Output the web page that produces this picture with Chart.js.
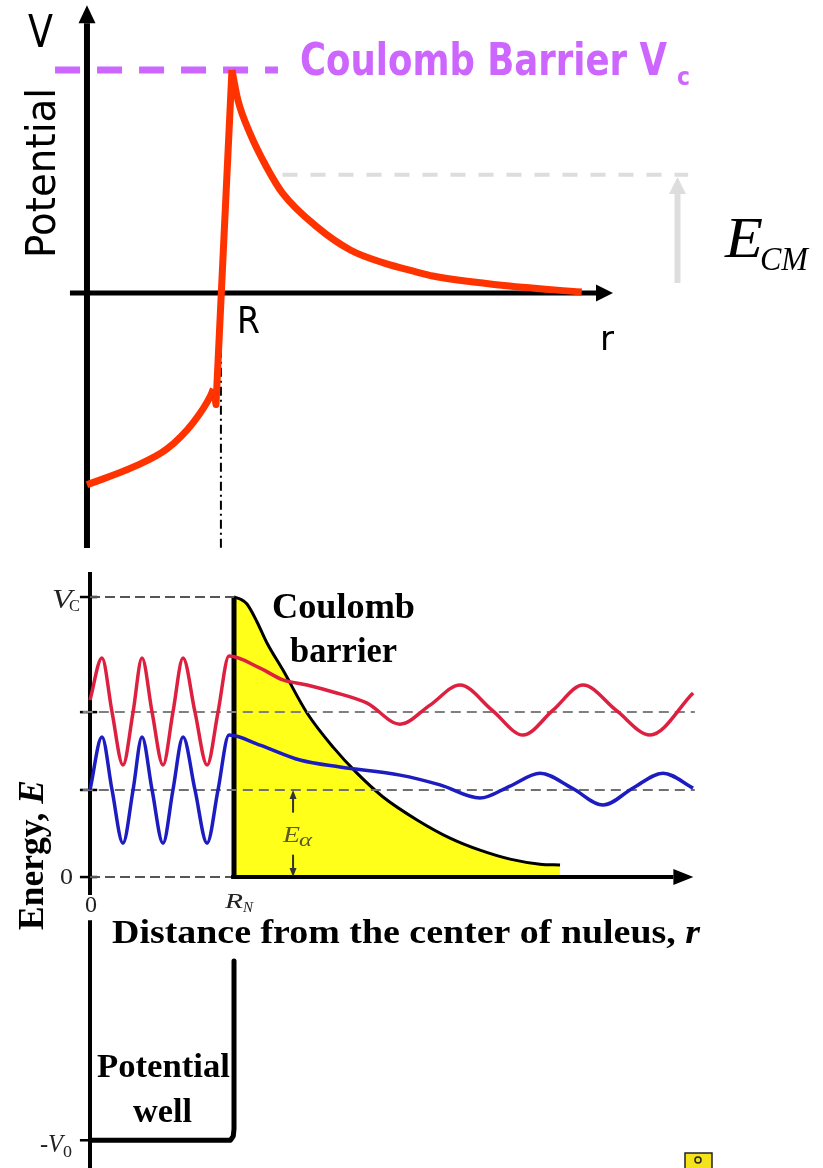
<!DOCTYPE html>
<html>
<head>
<meta charset="utf-8">
<script src="https://cdn.jsdelivr.net/npm/chart.js@4.4.1/dist/chart.umd.min.js"></script>
<style>
  html, body { margin: 0; padding: 0; background: #fff; }
  canvas { display: block; }
</style>
</head>
<body>
<canvas id="potential_chart" width="823" height="1168"></canvas>
<script>
// ---- top sketch: V(r), r in units of R, V in units of Vc ----
var innerR = [0, 0.35, 0.60, 0.80, 0.93, 0.95];
var innerV = [-0.86, -0.78, -0.70, -0.58, -0.46, -0.43];
var spikeR = [0.95, 0.97, 1.09];
var spikeV = [-0.43, -0.50, 1.0];
var decayR = [1.09, 1.135, 1.225, 1.35, 1.47, 1.73, 1.98, 2.23, 2.48, 2.60, 3.10, 3.72];
var decayV = [1.0, 0.865, 0.717, 0.565, 0.448, 0.296, 0.193, 0.135, 0.094, 0.076, 0.036, 0.004];
var barrierV = 1.0;      // Vc
var barrierLineR = [-0.24, 1.436];
var ecmV = 0.53;         // E_CM
var ecmLineR = [1.47, 4.52];

// ---- bottom sketch: energy vs distance, r in units of R_N, E in units of Vc ----
var coulombR = [1.0, 1.042, 1.090, 1.160, 1.229, 1.340, 1.507, 1.688, 1.854, 2.035, 2.271, 2.5, 2.708, 2.917, 3.125, 3.264];
var coulombE = [1.0, 0.993, 0.975, 0.911, 0.836, 0.739, 0.586, 0.464, 0.371, 0.286, 0.204, 0.139, 0.096, 0.064, 0.046, 0.043];
var redWaveR = [0, 0.083, 0.153, 0.229, 0.299, 0.361, 0.431, 0.507, 0.576, 0.646, 0.729, 0.813, 0.889, 0.965, 1.181, 1.340, 1.507, 1.688, 1.924, 2.153, 2.361, 2.569, 2.792, 3.007, 3.215, 3.424, 3.653, 3.889, 4.188];
var redWaveE = [0.632, 0.782, 0.589, 0.400, 0.589, 0.782, 0.589, 0.400, 0.589, 0.782, 0.589, 0.400, 0.589, 0.789, 0.746, 0.704, 0.686, 0.661, 0.621, 0.546, 0.614, 0.686, 0.596, 0.507, 0.596, 0.686, 0.596, 0.507, 0.657];
var blueWaveR = [0, 0.083, 0.153, 0.229, 0.299, 0.361, 0.431, 0.507, 0.576, 0.646, 0.729, 0.813, 0.889, 0.965, 1.181, 1.458, 1.736, 2.153, 2.431, 2.708, 2.917, 3.125, 3.347, 3.563, 3.771, 3.979, 4.188];
var blueWaveE = [0.311, 0.5, 0.311, 0.121, 0.311, 0.5, 0.311, 0.121, 0.311, 0.5, 0.311, 0.121, 0.311, 0.507, 0.471, 0.418, 0.393, 0.364, 0.329, 0.282, 0.325, 0.371, 0.318, 0.257, 0.318, 0.371, 0.318];
var wellR = [1.0, 1.0, 0.995, 0.975, 0];
var wellE = [-0.30, -0.90, -0.925, -0.94, -0.94];
var wallR = [1.0, 1.0];
var wallE = [0, 1.0];
var redLevel = 0.589;
var alphaLevel = 0.311;     // E_alpha
var levelLineR = [-0.05, 4.20];
var innerLineR = [0, 1.0];
var tickLevels = [1.0, 0.589, 0.311, 0, -0.94];

function pts(xs, ys) {
    return xs.map(function (x, i) { return { x: x, y: ys[i] }; });
}

function fitText(ctx, str, x, y, w, font, color, angle) {
    ctx.save();
    ctx.font = font;
    ctx.fillStyle = color || '#000';
    ctx.textAlign = 'left';
    ctx.textBaseline = 'alphabetic';
    var m = ctx.measureText(str).width;
    ctx.translate(x, y);
    if (angle) ctx.rotate(angle);
    ctx.scale(w / m, 1);
    ctx.fillText(str, 0, 0);
    ctx.restore();
}

// several fonts on one line, squeezed to a width together
function fitParts(ctx, parts, x, y, w, color, angle) {
    ctx.save();
    ctx.fillStyle = color || '#000';
    ctx.textBaseline = 'alphabetic';
    var total = 0;
    parts.forEach(function (p) { ctx.font = p[1]; total += ctx.measureText(p[0]).width; });
    ctx.translate(x, y);
    if (angle) ctx.rotate(angle);
    ctx.scale(w / total, 1);
    var cx = 0;
    parts.forEach(function (p) {
        ctx.font = p[1];
        ctx.fillText(p[0], cx, 0);
        cx += ctx.measureText(p[0]).width;
    });
    ctx.restore();
}

function arrow(ctx, x1, y1, x2, y2, len, wid, color, lw) {
    var a = Math.atan2(y2 - y1, x2 - x1);
    var bx = x2 - len * Math.cos(a), by = y2 - len * Math.sin(a);
    ctx.save();
    ctx.strokeStyle = color; ctx.fillStyle = color; ctx.lineWidth = lw;
    ctx.beginPath(); ctx.moveTo(x1, y1); ctx.lineTo(bx, by); ctx.stroke();
    ctx.beginPath();
    ctx.moveTo(x2, y2);
    ctx.lineTo(bx + wid / 2 * Math.sin(a), by - wid / 2 * Math.cos(a));
    ctx.lineTo(bx - wid / 2 * Math.sin(a), by + wid / 2 * Math.cos(a));
    ctx.closePath(); ctx.fill();
    ctx.restore();
}

function line(ctx, x1, y1, x2, y2, color, lw, dash) {
    ctx.save();
    ctx.strokeStyle = color; ctx.lineWidth = lw;
    if (dash) ctx.setLineDash(dash);
    ctx.beginPath(); ctx.moveTo(x1, y1); ctx.lineTo(x2, y2); ctx.stroke();
    ctx.restore();
}

var serif = '"Liberation Serif", "Times New Roman", serif';
var sans = '"DejaVu Sans", sans-serif';

var sketchAxes = {
    id: 'sketchAxes',
    beforeDatasetsDraw: function (chart) {
        var ctx = chart.ctx;
        var X = chart.scales.x, Y = chart.scales.y, X2 = chart.scales.x2, Y2 = chart.scales.y2;
        // top axes
        arrow(ctx, X.getPixelForValue(0), Y.getPixelForValue(-1.143), X.getPixelForValue(0), Y.getPixelForValue(1.291), 18, 17, '#000', 6);
        arrow(ctx, X.getPixelForValue(-0.128), Y.getPixelForValue(0), X.getPixelForValue(3.955), Y.getPixelForValue(0), 17, 17, '#000', 5);
        line(ctx, X.getPixelForValue(1.007), Y.getPixelForValue(-0.08), X.getPixelForValue(1.007), Y.getPixelForValue(-1.143), '#000', 2, [9, 4, 2, 4]);
        arrow(ctx, X.getPixelForValue(4.44), Y.getPixelForValue(0.045), X.getPixelForValue(4.44), Y.getPixelForValue(0.52), 17, 17, '#dddddd', 6);

        // bottom energy axis (broken under the "0" label)
        var x0 = X2.getPixelForValue(0);
        line(ctx, x0, Y2.getPixelForValue(1.089), x0, Y2.getPixelForValue(-0.064), '#000', 4);
        line(ctx, x0, Y2.getPixelForValue(-0.154), x0, Y2.getPixelForValue(-1.04), '#000', 4);
        tickLevels.forEach(function (v) {
            line(ctx, X2.getPixelForValue(-0.07), Y2.getPixelForValue(v), X2.getPixelForValue(0.05), Y2.getPixelForValue(v), '#000', 2.5);
        });
    },
    afterDatasetsDraw: function (chart) {
        var ctx = chart.ctx;
        var X = chart.scales.x, Y = chart.scales.y, X2 = chart.scales.x2, Y2 = chart.scales.y2;
        // bottom distance axis
        arrow(ctx, X2.getPixelForValue(0.98), Y2.getPixelForValue(0), X2.getPixelForValue(4.19), Y2.getPixelForValue(0), 20, 16, '#000', 4);
        // E_alpha arrows
        var xa = X2.getPixelForValue(1.41);
        arrow(ctx, xa, Y2.getPixelForValue(0.23), xa, Y2.getPixelForValue(alphaLevel), 9, 7, '#333', 2);
        arrow(ctx, xa, Y2.getPixelForValue(0.08), xa, Y2.getPixelForValue(0), 9, 7, '#333', 2);

        // ---- top labels ----
        fitText(ctx, 'V', 28, 47, 25, '44px ' + sans, '#000');
        fitText(ctx, 'Potential', 55, 258, 170, '40px ' + sans, '#000', -Math.PI / 2);
        var yVc = Y.getPixelForValue(barrierV);
        fitText(ctx, 'Coulomb Barrier V', 300, yVc + 5, 367, 'bold 44px ' + sans, '#cc66ff');
        fitText(ctx, 'c', 677, yVc + 15, 13, 'bold 24px ' + sans, '#cc66ff');
        fitText(ctx, 'E', 725, 257, 38, 'italic 58px ' + serif, '#000');
        fitText(ctx, 'CM', 760, 270, 48, 'italic 34px ' + serif, '#000');
        fitText(ctx, 'R', 237, 333, 23, '38px ' + sans, '#000');
        fitText(ctx, 'r', 600, 350, 14, '34px ' + sans, '#000');

        // ---- bottom labels ----
        var yC = Y2.getPixelForValue(1.0), y0 = Y2.getPixelForValue(0), yW = Y2.getPixelForValue(-0.94);
        fitText(ctx, 'V', 52, yC + 11, 20, 'italic 28px ' + serif, '#222');
        fitText(ctx, 'C', 69, yC + 14, 11, '17px ' + serif, '#222');
        fitText(ctx, '0', 60, y0 + 7, 13, '24px ' + serif, '#222');
        fitText(ctx, '0', 85, y0 + 35, 12, '24px ' + serif, '#222');
        fitText(ctx, 'R', 225, y0 + 31, 18, 'italic 22px ' + serif, '#222');
        fitText(ctx, 'N', 243, y0 + 35, 10, 'italic 14px ' + serif, '#222');
        fitText(ctx, '-V', 40, yW + 12, 23, 'italic 26px ' + serif, '#222');
        fitText(ctx, '0', 63, yW + 17, 9, '17px ' + serif, '#222');
        fitText(ctx, 'Coulomb', 272, 618, 143, 'bold 36px ' + serif, '#000');
        fitText(ctx, 'barrier', 290, 662, 107, 'bold 35px ' + serif, '#000');
        fitParts(ctx, [['Energy, ', 'bold 36px ' + serif], ['E', 'bold italic 36px ' + serif]], 43, 930, 150, '#000', -Math.PI / 2);
        fitParts(ctx, [['Distance from the center of nuleus, ', 'bold 34px ' + serif], ['r', 'bold italic 34px ' + serif]], 112, 943, 588, '#000');
        fitText(ctx, 'Potential', 97, 1077, 133, 'bold 34px ' + serif, '#000');
        fitText(ctx, 'well', 133, 1122, 59, 'bold 34px ' + serif, '#000');
        fitText(ctx, 'E', 283, 842, 17, 'italic 24px ' + serif, '#5a5a2a');
        fitText(ctx, '\u03b1', 299, 846, 13, 'italic 18px ' + serif, '#5a5a2a');

        // small yellow icon in the corner
        ctx.save();
        ctx.fillStyle = '#f4e21c'; ctx.strokeStyle = '#222'; ctx.lineWidth = 1.5;
        ctx.fillRect(685, 1153, 27, 16); ctx.strokeRect(685, 1153, 27, 16);
        ctx.beginPath(); ctx.arc(698, 1160, 3, 0, Math.PI * 2); ctx.stroke();
        ctx.restore();
    }
};

var red = '#ff3300';
var top = { xAxisID: 'x', yAxisID: 'y' };
var bot = { xAxisID: 'x2', yAxisID: 'y2' };

function ds(axes, data, opts) {
    return Object.assign({ data: data, pointRadius: 0, fill: false, borderCapStyle: 'butt', borderJoinStyle: 'round' }, axes, opts);
}

var datasets = [
    // top
    ds(top, pts(innerR, innerV), { borderColor: red, borderWidth: 7, cubicInterpolationMode: 'monotone', order: 1 }),
    ds(top, pts(spikeR, spikeV), { borderColor: red, borderWidth: 7, tension: 0, order: 1 }),
    ds(top, pts(decayR, decayV), { borderColor: red, borderWidth: 7, cubicInterpolationMode: 'monotone', order: 1 }),
    ds(top, pts(barrierLineR, [barrierV, barrierV]), { borderColor: '#cc66ff', borderWidth: 7, borderDash: [25, 17], order: 2 }),
    ds(top, pts(ecmLineR, [ecmV, ecmV]), { borderColor: '#dddddd', borderWidth: 4, borderDash: [15, 13], order: 2 }),
    // bottom
    ds(bot, pts(redWaveR, redWaveE), { borderColor: '#de2040', borderWidth: 3.5, cubicInterpolationMode: 'monotone', order: 1 }),
    ds(bot, pts(blueWaveR, blueWaveE), { borderColor: '#1c1cc0', borderWidth: 3.5, cubicInterpolationMode: 'monotone', order: 1 }),
    ds(bot, pts(levelLineR, [redLevel, redLevel]), { borderColor: '#808080', borderWidth: 2, borderDash: [10, 6], order: 2 }),
    ds(bot, pts(levelLineR, [alphaLevel, alphaLevel]), { borderColor: '#707070', borderWidth: 2, borderDash: [10, 6], order: 2 }),
    ds(bot, pts(innerLineR, [1.0, 1.0]), { borderColor: '#555', borderWidth: 2, borderDash: [10, 5], order: 2 }),
    ds(bot, pts(innerLineR, [0, 0]), { borderColor: '#555', borderWidth: 2, borderDash: [10, 5], order: 2 }),
    ds(bot, pts(wallR, wallE), { borderColor: '#000', borderWidth: 5, tension: 0, order: 2 }),
    ds(bot, pts(wellR, wellE), { borderColor: '#000', borderWidth: 5, tension: 0, order: 2 }),
    ds(bot, pts(coulombR, coulombE), { borderColor: '#000', borderWidth: 3, backgroundColor: '#ffff1a', fill: 'origin', cubicInterpolationMode: 'monotone', order: 3 })
];

var potential_chart = new Chart(document.getElementById('potential_chart'), {
    type: 'line',
    data: { datasets: datasets },
    options: {
        responsive: false,
        animation: false,
        layout: { padding: 0 },
        scales: {
            x: { type: 'linear', display: false, min: -0.654, max: 5.534 },
            y: { type: 'linear', display: false, min: -3.924, max: 1.314 },
            x2: { type: 'linear', display: false, min: -0.625, max: 5.090 },
            y2: { type: 'linear', display: false, min: -1.039, max: 3.132 }
        },
        plugins: {
            legend: { display: false },
            tooltip: { enabled: false }
        }
    },
    plugins: [sketchAxes]
});
</script>
</body>
</html>
